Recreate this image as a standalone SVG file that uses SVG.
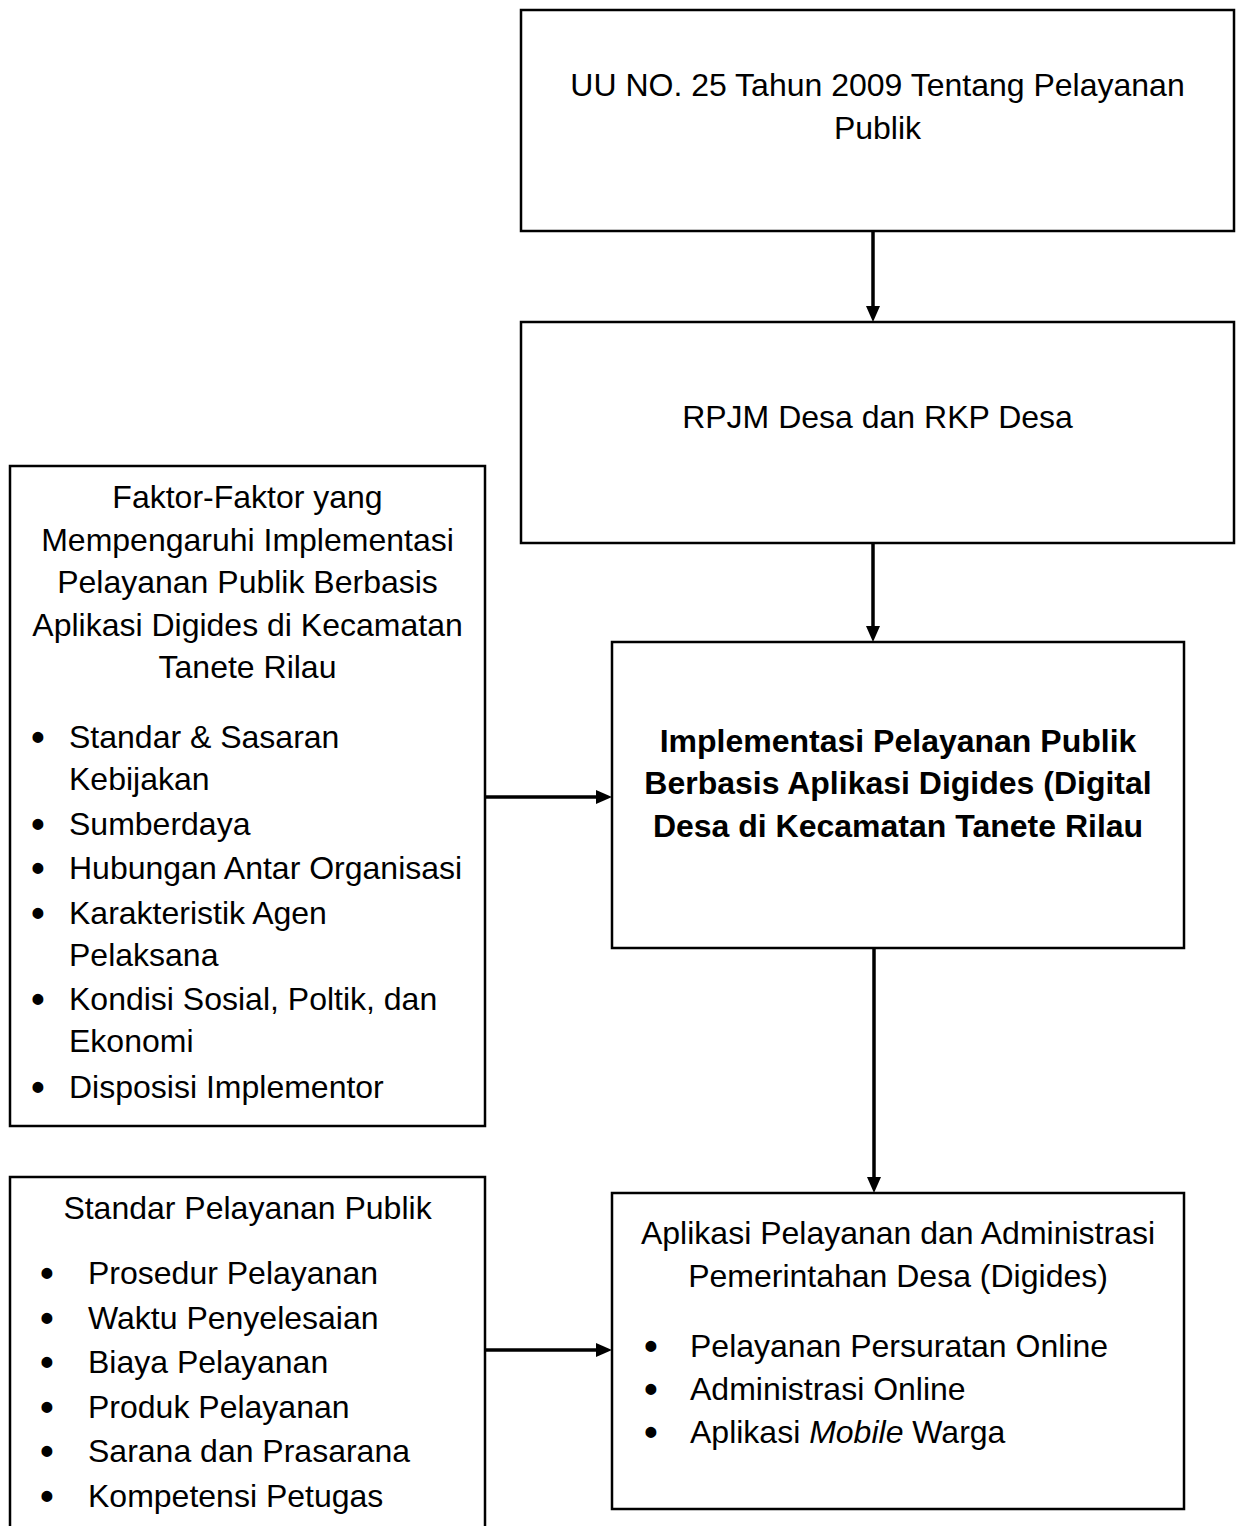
<svg xmlns="http://www.w3.org/2000/svg" width="1237" height="1526" viewBox="0 0 1237 1526">
<style>
.box{fill:#fff;stroke:#000;stroke-width:2.5}
.t{font-family:"Liberation Sans",Arial,sans-serif;font-size:32px;fill:#000}
.c{text-anchor:middle}
.b{font-weight:bold}
.bu{font-family:"Liberation Sans",Arial,sans-serif;font-size:38px;font-weight:bold;fill:#000;text-anchor:middle}
.con{stroke:#000;stroke-width:3.5;fill:none}
</style>
<defs>
<marker id="ah" markerUnits="userSpaceOnUse" markerWidth="16" markerHeight="14" refX="2" refY="7" orient="auto">
<path d="M0,0 L16,7 L0,14 z" fill="#000"/>
</marker>
</defs>
<rect width="1237" height="1526" fill="#fff"/>
<g id="uu">
<rect class="box" x="521" y="10" width="713" height="221"/>
<text class="t c" x="877.5" y="96">UU NO. 25 Tahun 2009 Tentang Pelayanan</text>
<text class="t c" x="877.5" y="139">Publik</text>
</g>
<g id="rpjm">
<rect class="box" x="521" y="322" width="713" height="221"/>
<text class="t c" x="877.5" y="428">RPJM Desa dan RKP Desa</text>
</g>
<g id="implementasi">
<rect class="box" x="612" y="642" width="572" height="306"/>
<text class="t c b" x="898" y="752">Implementasi Pelayanan Publik</text>
<text class="t c b" x="898" y="794">Berbasis Aplikasi Digides (Digital</text>
<text class="t c b" x="898" y="837">Desa di Kecamatan Tanete Rilau</text>
</g>
<g id="faktor">
<rect class="box" x="10" y="466" width="475" height="660"/>
<text class="t c" x="247.5" y="508">Faktor-Faktor yang</text>
<text class="t c" x="247.5" y="551">Mempengaruhi Implementasi</text>
<text class="t c" x="247.5" y="593">Pelayanan Publik Berbasis</text>
<text class="t c" x="247.5" y="636">Aplikasi Digides di Kecamatan</text>
<text class="t c" x="247.5" y="678">Tanete Rilau</text>
<text class="bu" x="38" y="750">•</text><text class="t" x="69" y="748">Standar &amp; Sasaran</text>
<text class="t" x="69" y="790">Kebijakan</text>
<text class="bu" x="38" y="837">•</text><text class="t" x="69" y="835">Sumberdaya</text>
<text class="bu" x="38" y="881">•</text><text class="t" x="69" y="879">Hubungan Antar Organisasi</text>
<text class="bu" x="38" y="926">•</text><text class="t" x="69" y="924">Karakteristik Agen</text>
<text class="t" x="69" y="966">Pelaksana</text>
<text class="bu" x="38" y="1012">•</text><text class="t" x="69" y="1010">Kondisi Sosial, Poltik, dan</text>
<text class="t" x="69" y="1052">Ekonomi</text>
<text class="bu" x="38" y="1100">•</text><text class="t" x="69" y="1098">Disposisi Implementor</text>
</g>
<g id="standar">
<rect class="box" x="10" y="1177" width="475" height="370"/>
<text class="t c" x="247.5" y="1219">Standar Pelayanan Publik</text>
<text class="bu" x="47" y="1286">•</text><text class="t" x="88" y="1284">Prosedur Pelayanan</text>
<text class="bu" x="47" y="1331">•</text><text class="t" x="88" y="1329">Waktu Penyelesaian</text>
<text class="bu" x="47" y="1375">•</text><text class="t" x="88" y="1373">Biaya Pelayanan</text>
<text class="bu" x="47" y="1420">•</text><text class="t" x="88" y="1418">Produk Pelayanan</text>
<text class="bu" x="47" y="1464">•</text><text class="t" x="88" y="1462">Sarana dan Prasarana</text>
<text class="bu" x="47" y="1509">•</text><text class="t" x="88" y="1507">Kompetensi Petugas</text>
</g>
<g id="aplikasi">
<rect class="box" x="612" y="1193" width="572" height="316"/>
<text class="t c" x="898" y="1244">Aplikasi Pelayanan dan Administrasi</text>
<text class="t c" x="898" y="1287">Pemerintahan Desa (Digides)</text>
<text class="bu" x="651" y="1359">•</text><text class="t" x="690" y="1357">Pelayanan Persuratan Online</text>
<text class="bu" x="651" y="1402">•</text><text class="t" x="690" y="1400">Administrasi Online</text>
<text class="bu" x="651" y="1445">•</text><text class="t" x="690" y="1443">Aplikasi <tspan font-style="italic">Mobile</tspan> Warga</text>
</g>
<g id="connectors">
<line class="con" x1="873" y1="231" x2="873" y2="308" marker-end="url(#ah)"/>
<line class="con" x1="873" y1="543" x2="873" y2="628" marker-end="url(#ah)"/>
<line class="con" x1="874" y1="948" x2="874" y2="1179" marker-end="url(#ah)"/>
<line class="con" x1="485" y1="797" x2="598" y2="797" marker-end="url(#ah)"/>
<line class="con" x1="485" y1="1350" x2="598" y2="1350" marker-end="url(#ah)"/>
</g>
</svg>
